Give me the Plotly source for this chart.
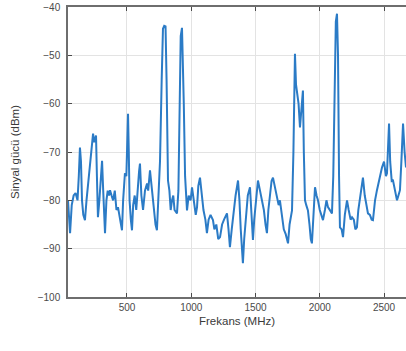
import plotly.graph_objects as go

freq_mhz = [41, 50, 57, 70, 85, 100, 115, 125, 134, 142, 150, 160, 173, 185, 200, 215, 225, 236, 245, 259,
            266, 274, 285, 295, 306, 315, 322, 329, 340, 350, 360, 368, 380, 392, 405, 418, 430, 440, 450, 461,
            470, 478, 484, 495, 502, 508, 514, 520, 530, 539, 548, 560, 572, 585, 594, 601, 612, 625, 640, 656,
            665, 679, 690, 700, 712, 722, 733, 742, 750, 757, 770, 780, 790, 800, 808, 814, 819, 830, 840, 850,
            860, 870, 889, 900, 910, 918, 928, 935, 942, 952, 967, 980, 995, 1006, 1020, 1035, 1045, 1055, 1068, 1080,
            1095, 1110, 1122, 1135, 1150, 1169, 1180, 1195, 1210, 1224, 1240, 1255, 1278, 1290, 1301, 1315, 1330, 1345, 1364, 1375,
            1385, 1395, 1402, 1412, 1425, 1440, 1457, 1468, 1480, 1490, 1505, 1519, 1535, 1550, 1565, 1578, 1589, 1600, 1615, 1625,
            1636, 1650, 1665, 1680, 1690, 1705, 1720, 1735, 1753, 1765, 1775, 1784, 1795, 1803, 1807, 1815, 1823, 1835, 1846, 1855,
            1865, 1869, 1876, 1885, 1895, 1908, 1920, 1930, 1939, 1950, 1963, 1975, 1986, 2000, 2012, 2025, 2040, 2052, 2064, 2080,
            2095, 2105, 2115, 2125, 2134, 2142, 2150, 2157, 2170, 2181, 2195, 2212, 2225, 2240, 2251, 2265, 2277, 2289, 2300, 2315,
            2336, 2350, 2362, 2375, 2390, 2404, 2414, 2430, 2445, 2460, 2472, 2484, 2500, 2515, 2523, 2532, 2539, 2548, 2560, 2570,
            2585, 2601, 2612, 2624, 2635, 2648, 2660, 2671]

power_dbm = [-80, -84, -86.8, -81, -79, -78.5, -80, -75, -69.1, -72, -80, -83, -84.1, -80, -76, -72, -68, -66.2, -68, -66.6,
             -75, -83.5, -80, -76, -71.8, -78, -84, -86.8, -80, -78, -79, -77.9, -79, -80, -78, -82, -81.4, -83, -84, -86.2,
             -80, -77, -74.4, -75, -68, -62.1, -70, -80, -84, -86.2, -81, -79, -82, -76, -74, -72.4, -79, -82, -78, -76.5,
             -78, -73.8, -77, -80, -83, -85, -86.2, -80, -74, -71.8, -55, -44.5, -43.9, -44, -55, -70, -75.9, -78, -82, -80,
             -79, -82, -82.7, -78, -62, -46, -44.3, -50, -60, -75, -82.1, -79, -80, -77.3, -80, -83, -81.4, -77, -75.3, -79,
             -82, -84, -86.8, -84, -83, -84.1, -86, -85, -88, -87.6, -85, -84, -82.7, -86, -89.7, -86, -82, -79, -75.9, -80,
             -86, -91, -93, -88, -83, -79, -77.3, -82, -88.2, -84, -79, -75.9, -78, -80, -82, -85, -86.8, -82, -78, -76,
             -75.3, -77, -79, -81, -80, -83, -86, -87, -88.9, -85, -83, -82.1, -70, -55, -49.7, -56, -57.9, -60, -64.9, -62,
             -58, -57.3, -70, -80, -81, -82.1, -85, -88, -88.9, -82, -77.3, -79, -80, -82, -83, -84.1, -82, -80, -81.4, -82,
             -82.7, -75, -55, -43, -41.4, -50, -75, -85.6, -86, -87.6, -83, -80, -82, -84, -83.5, -84, -86, -85.6, -82, -79,
             -75.3, -79, -81, -82.7, -83, -84, -84.1, -80, -77.9, -76, -74, -73.2, -72, -75, -74.4, -70, -64.1, -72, -76, -75.9,
             -78, -80, -79, -77.9, -72, -64.1, -70, -73.2]

x_ticks = [500, 1000, 1500, 2000, 2500]
y_ticks = [-100, -90, -80, -70, -60, -50, -40]

fig = go.Figure()
fig.add_trace(go.Scatter(x=freq_mhz, y=power_dbm, mode="lines",
                         line=dict(color="#2b7bc6", width=2), showlegend=False))

axis_common = dict(showgrid=True, gridcolor="#e3e3e3", gridwidth=1,
                   showline=True, linecolor="#6e6e6e", linewidth=1.5,
                   ticks="inside", ticklen=4, tickcolor="#4a4a4a",
                   tickfont=dict(family="Liberation Sans, Arial", size=10, color="#4a4a4a"),
                   zeroline=False)

fig.update_xaxes(range=[41, 2671], tickvals=x_ticks, mirror="ticks",
                 title=dict(text="Frekans (MHz)", standoff=5,
                            font=dict(family="Liberation Sans, Arial", size=11.5, color="#3a3a3a")),
                 **axis_common)
fig.update_yaxes(range=[-100, -40], tickvals=y_ticks, mirror=False, ticklabelstandoff=4,
                 title=dict(text="Sinyal gücü (dBm)", standoff=16,
                            font=dict(family="Liberation Sans, Arial", size=11.5, color="#3a3a3a")),
                 **axis_common)

fig.update_layout(width=406, height=351, margin=dict(l=68, r=0, t=7, b=54),
                  plot_bgcolor="white", paper_bgcolor="white")

fig.write_html("out.html")
